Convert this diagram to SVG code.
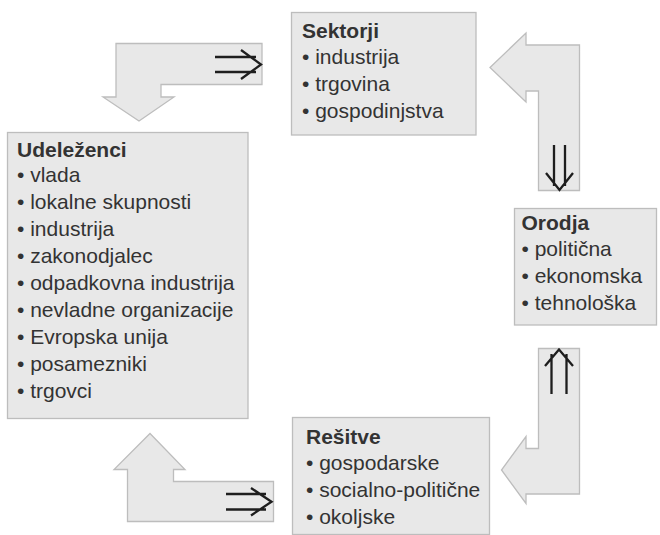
<svg xmlns="http://www.w3.org/2000/svg" width="660" height="535" viewBox="0 0 660 535">
<style>
.box{fill:#e8e8e8;stroke:#bdbdbd;stroke-width:1.3}
.arr{fill:#e8e8e8;stroke:#bdbdbd;stroke-width:1.3;stroke-linejoin:miter}
.dbl{fill:none;stroke:#1e1e1e;stroke-width:2.3;stroke-linecap:butt;stroke-linejoin:miter}
text{font-family:"Liberation Sans",Arial,sans-serif;font-size:21px;fill:#333}
.t{font-weight:bold}
</style>
<rect width="660" height="535" fill="#fff"/>
<g id="connectors">
<path class="arr" d="M116,43.5 L262,43.5 L262,84.5 L161,84.5 L161,97 L174,97 L139,121 L103,97 L116,97 Z"/>
<path class="dbl" d="M215,57 L256,57 M215,72 L256,72 M241,50 L261,64.5 L241,79"/>
<path class="arr" d="M579.5,190.5 L538.5,190.5 L538.5,91 L526,91 L526,102 L490,67.5 L526,33 L526,45 L579.5,45 Z"/>
<path class="dbl" d="M554,145 L554,186 M565,145 L565,186 M546,173 L559.5,190 L573,173"/>
<path class="arr" d="M538.5,348.5 L579.5,348.5 L579.5,494 L526,494 L526,503.5 L501.5,470 L526,436.5 L526,448.5 L538.5,448.5 Z"/>
<path class="dbl" d="M551.5,354 L551.5,394 M566.5,354 L566.5,394 M545,366 L559,349.5 L573,366"/>
<path class="arr" d="M127.5,521.5 L127.5,469.5 L114,469.5 L150,433.5 L185,469.5 L173.5,469.5 L173.5,481.5 L273.5,481.5 L273.5,521.5 Z"/>
<path class="dbl" d="M226,494 L266,494 M226,509.5 L266,509.5 M251,488 L271.5,501.7 L251,515.5"/>
</g>
<g id="sektorji">
<rect class="box" x="291.5" y="12.5" width="184.5" height="122.5"/>
<text class="t" x="302" y="37.5">Sektorji</text>
<text x="302" y="64">• industrija</text>
<text x="302" y="91">• trgovina</text>
<text x="302" y="118">• gospodinjstva</text>
</g>
<g id="udelezenci">
<rect class="box" x="7.5" y="132.5" width="240.5" height="286"/>
<text class="t" x="17" y="156.5">Udeleženci</text>
<text x="17" y="182">• vlada</text>
<text x="17" y="209">• lokalne skupnosti</text>
<text x="17" y="236">• industrija</text>
<text x="17" y="263">• zakonodjalec</text>
<text x="17" y="290">• odpadkovna industrija</text>
<text x="17" y="317">• nevladne organizacije</text>
<text x="17" y="344">• Evropska unija</text>
<text x="17" y="371">• posamezniki</text>
<text x="17" y="398">• trgovci</text>
</g>
<g id="orodja">
<rect class="box" x="514.5" y="208.5" width="142" height="116.5"/>
<text class="t" x="521.5" y="229.5">Orodja</text>
<text x="521.5" y="256">• politična</text>
<text x="521.5" y="283">• ekonomska</text>
<text x="521.5" y="310">• tehnološka</text>
</g>
<g id="resitve">
<rect class="box" x="292.5" y="417.5" width="197" height="117"/>
<text class="t" x="306" y="443.5">Rešitve</text>
<text x="306" y="470">• gospodarske</text>
<text x="306" y="497">• socialno-politične</text>
<text x="306" y="524">• okoljske</text>
</g>
</svg>
